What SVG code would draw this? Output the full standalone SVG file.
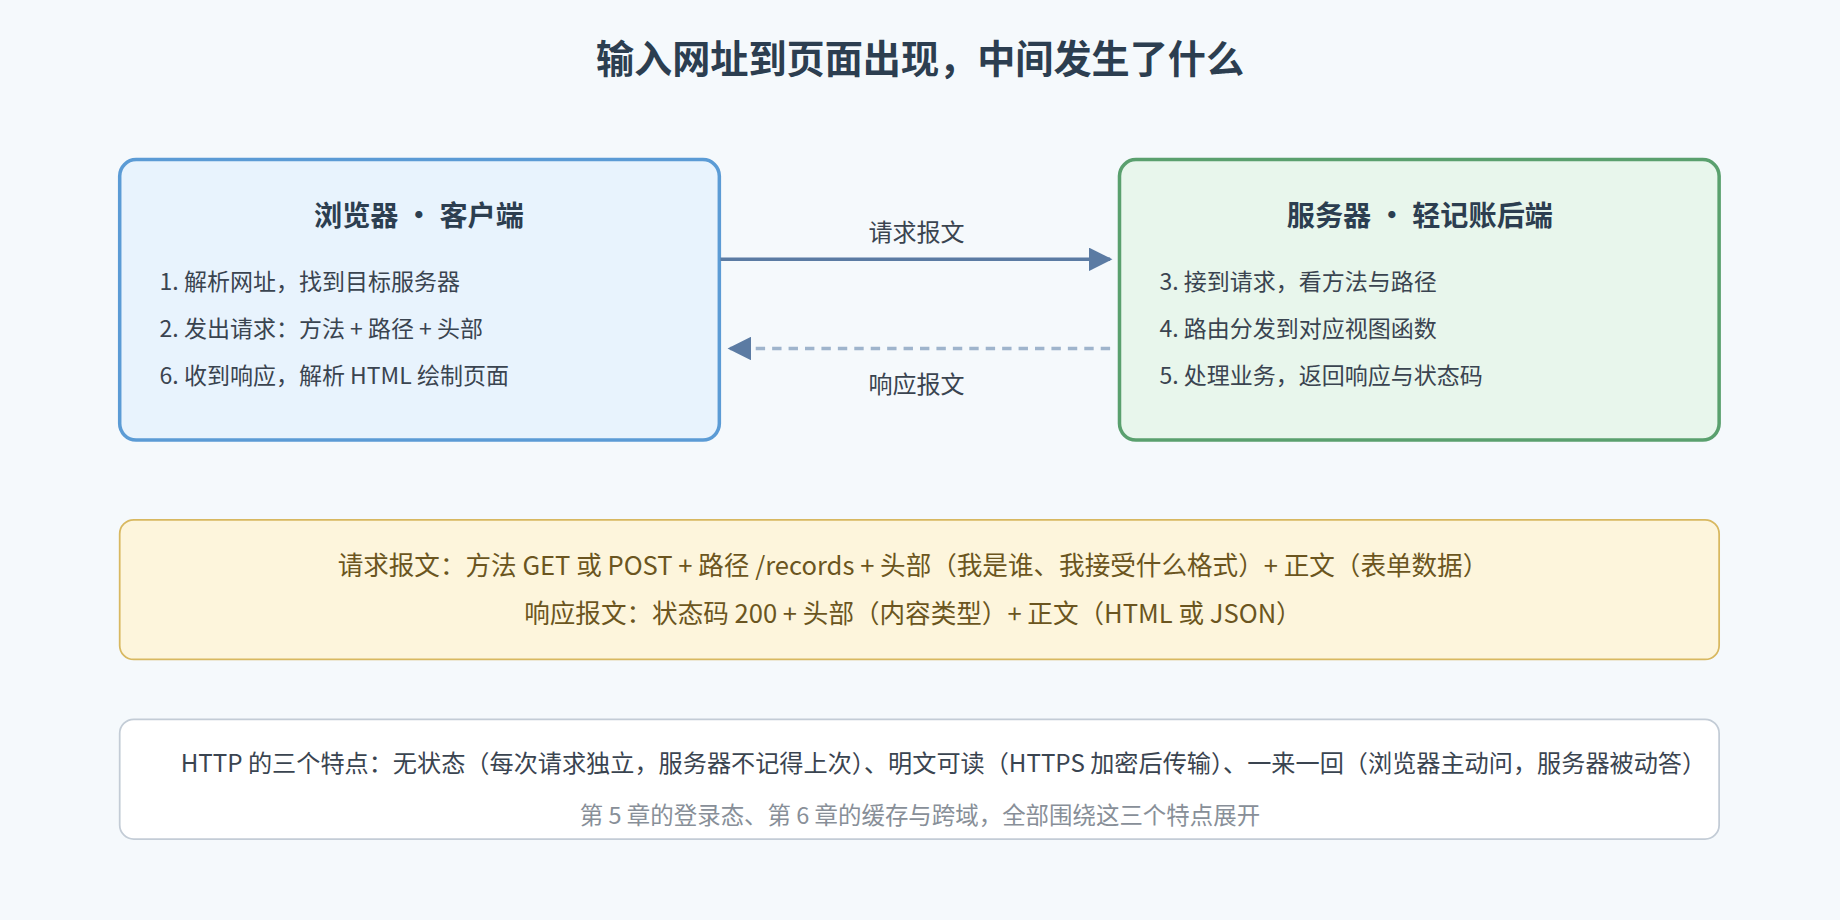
<svg xmlns="http://www.w3.org/2000/svg" width="1840" height="920" viewBox="0 0 1840 920">
<defs>
<marker id="a1" viewBox="0 0 10 10" refX="9" refY="5" markerWidth="24" markerHeight="20" markerUnits="userSpaceOnUse" orient="auto"><path d="M0,0 L10,5 L0,10 z" fill="#5b7ba3"/></marker>
<marker id="a2" viewBox="0 0 10 10" refX="9" refY="5" markerWidth="24" markerHeight="20" markerUnits="userSpaceOnUse" orient="auto"><path d="M0,0 L10,5 L0,10 z" fill="#5b7ba3"/></marker>
</defs>
<style>
text{font-family:"Noto Sans CJK SC","Noto Sans",sans-serif}
.t{font-size:32.5px;font-weight:700;fill:#2c3e50;text-anchor:middle}
.h{font-size:24px;font-weight:700;fill:#2c3e50;text-anchor:middle}
.i{font-size:19.6px;fill:#3a4450}
.l{font-size:20.5px;fill:#3a4450;text-anchor:middle}
.y{font-size:21.8px;fill:#6b5520;text-anchor:middle}
</style>
<rect width="1840" height="920" fill="#f5f9fc"/>
<g transform="scale(1.17347)">
<text class="t" x="784" y="62">输入网址到页面出现，中间发生了什么</text>
<g id="browser">
<rect x="102" y="136" width="511" height="239" rx="14" fill="#e8f3fd" stroke="#5b9bd5" stroke-width="3"/>
<text class="h" x="357" y="193">浏览器 • 客户端</text>
<text class="i" x="136" y="247">1. 解析网址，找到目标服务器</text>
<text class="i" x="136" y="287">2. 发出请求：方法 + 路径 + 头部</text>
<text class="i" x="136" y="327">6. 收到响应，解析 HTML 绘制页面</text>
</g>
<g id="server">
<rect x="954" y="136" width="511" height="239" rx="14" fill="#e8f6ec" stroke="#5aa06e" stroke-width="3"/>
<text class="h" x="1210" y="193">服务器 • 轻记账后端</text>
<text class="i" x="988" y="247">3. 接到请求，看方法与路径</text>
<text class="i" x="988" y="287">4. 路由分发到对应视图函数</text>
<text class="i" x="988" y="327">5. 处理业务，返回响应与状态码</text>
</g>
<g id="connectors">
<line x1="614" y1="221" x2="946" y2="221" stroke="#5b7ba3" stroke-width="3" marker-end="url(#a1)"/>
<text class="l" x="781" y="205">请求报文</text>
<line x1="946" y1="297" x2="622" y2="297" stroke="#9fb4cc" stroke-width="3" stroke-dasharray="8,6" marker-end="url(#a2)"/>
<text class="l" x="781" y="335">响应报文</text>
</g>
<g id="messages">
<rect x="102" y="443" width="1363" height="119" rx="12" fill="#fdf5dc" stroke="#d8b860" stroke-width="1.5"/>
<text class="y" x="778" y="490">请求报文：方法 GET 或 POST + 路径 /records + 头部（我是谁、我接受什么格式）+ 正文（表单数据）</text>
<text class="y" x="778" y="531">响应报文：状态码 200 + 头部（内容类型）+ 正文（HTML 或 JSON）</text>
</g>
<g id="notes">
<rect x="102" y="613" width="1363" height="102" rx="12" fill="#ffffff" stroke="#c3ccd6" stroke-width="1.5"/>
<text x="154" y="658" style="font-size:20.6px;fill:#3a4450">HTTP 的三个特点：无状态（每次请求独立，服务器不记得上次）、明文可读（HTTPS 加密后传输）、一来一回（浏览器主动问，服务器被动答）</text>
<text x="784" y="702" style="font-size:20px;fill:#888f98;text-anchor:middle">第 5 章的登录态、第 6 章的缓存与跨域，全部围绕这三个特点展开</text>
</g>
</g>
</svg>
